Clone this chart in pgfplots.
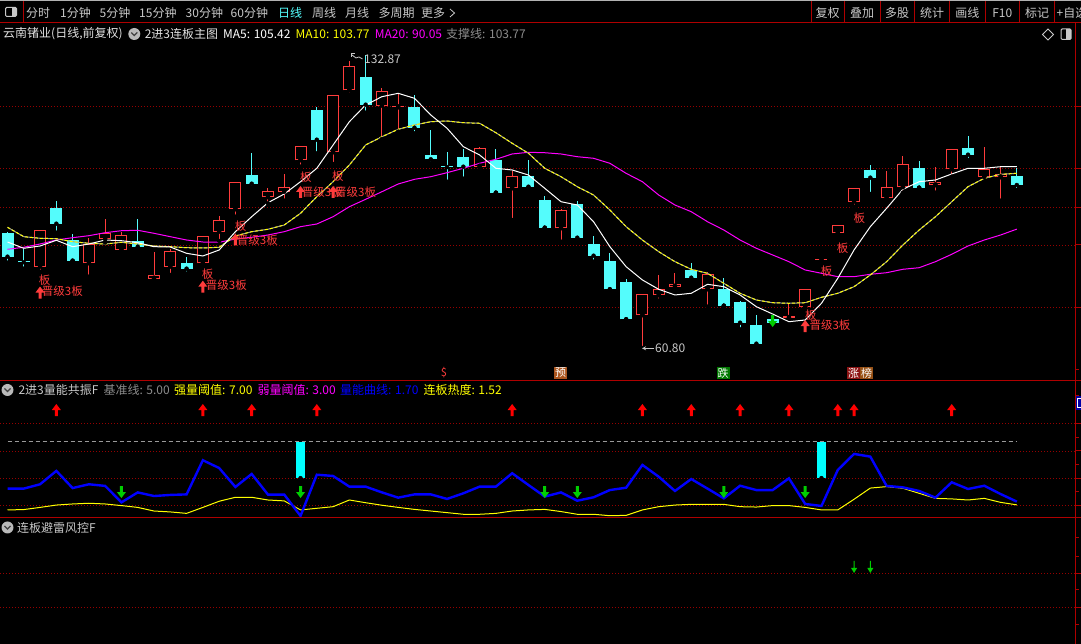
\documentclass[border=0pt]{standalone}
\usepackage{fontspec}
\setmainfont{Noto Sans CJK SC}
\usepackage{pgfplots}
\pgfplotsset{compat=1.18}
\usepackage{pgfplotstable}

\definecolor{candred}{RGB}{255,60,60}
\definecolor{candcyan}{RGB}{84,252,252}
\definecolor{gridred}{RGB}{150,0,0}
\definecolor{sepred}{RGB}{175,0,0}
\definecolor{txtgray}{RGB}{200,200,200}
\definecolor{txtwhite}{RGB}{225,225,225}
\definecolor{dimgray}{RGB}{140,140,140}
\definecolor{mayellow}{RGB}{255,255,0}
\definecolor{mamag}{RGB}{255,0,255}
\definecolor{p2blue}{RGB}{0,0,255}
\definecolor{arrgreen}{RGB}{0,205,0}
\definecolor{barcyan}{RGB}{0,255,255}
\definecolor{pillA}{RGB}{170,85,30}
\definecolor{pillB}{RGB}{0,120,0}
\definecolor{pillC}{RGB}{140,20,20}
\definecolor{pillD}{RGB}{150,80,20}

\pgfdeclareplotmark{arrup}{%
  \pgfpathmoveto{\pgfqpoint{-1.5pt}{-6pt}}%
  \pgfpathlineto{\pgfqpoint{1.5pt}{-6pt}}%
  \pgfpathlineto{\pgfqpoint{1.5pt}{0pt}}%
  \pgfpathlineto{\pgfqpoint{4.5pt}{0pt}}%
  \pgfpathlineto{\pgfqpoint{0pt}{6pt}}%
  \pgfpathlineto{\pgfqpoint{-4.5pt}{0pt}}%
  \pgfpathlineto{\pgfqpoint{-1.5pt}{0pt}}%
  \pgfpathclose\pgfusepathqfill}
\pgfdeclareplotmark{arrdown}{%
  \pgfpathmoveto{\pgfqpoint{-1.5pt}{6pt}}%
  \pgfpathlineto{\pgfqpoint{1.5pt}{6pt}}%
  \pgfpathlineto{\pgfqpoint{1.5pt}{0pt}}%
  \pgfpathlineto{\pgfqpoint{4.5pt}{0pt}}%
  \pgfpathlineto{\pgfqpoint{0pt}{-6pt}}%
  \pgfpathlineto{\pgfqpoint{-4.5pt}{0pt}}%
  \pgfpathlineto{\pgfqpoint{-1.5pt}{0pt}}%
  \pgfpathclose\pgfusepathqfill}
\pgfdeclareplotmark{thindown}{%
  \pgfpathmoveto{\pgfqpoint{-0.5pt}{6pt}}%
  \pgfpathlineto{\pgfqpoint{0.5pt}{6pt}}%
  \pgfpathlineto{\pgfqpoint{0.5pt}{-1pt}}%
  \pgfpathlineto{\pgfqpoint{3pt}{-1pt}}%
  \pgfpathlineto{\pgfqpoint{0pt}{-6pt}}%
  \pgfpathlineto{\pgfqpoint{-3pt}{-1pt}}%
  \pgfpathlineto{\pgfqpoint{-0.5pt}{-1pt}}%
  \pgfpathclose\pgfusepathqfill}

% down (cyan) candles: i open high low close
\pgfplotstableread{
i o h l c
0 89.17 89.42 81.79 83.27
1 82.10 85.16 80.32 81.90
3 95.24 96.97 89.17 91.38
4 87.37 88.78 82.28 82.28
8 87.05 92.47 85.16 85.73
11 81.64 83.12 79.09 80.32
15 103.36 108.70 100.24 101.22
19 119.35 120.16 108.70 112.04
22 127.46 132.87 118.68 120.65
25 120.16 123.04 113.62 114.99
26 108.28 114.43 106.24 107.22
27 105.50 108.94 101.71 105.30
28 107.79 109.75 102.45 105.40
30 107.05 109.75 99.01 99.01
32 103.11 107.05 100.24 100.48
33 97.21 98.20 90.40 90.40
35 96.23 96.89 87.37 87.94
36 86.39 88.36 82.04 83.51
37 82.28 84.25 75.25 75.25
38 77.12 77.71 67.87 67.87
42 80.00 81.79 77.36 78.10
44 75.25 77.95 71.22 71.22
45 72.05 72.37 65.41 67.03
46 66.47 68.93 61.00 61.87
47 67.87 68.19 66.96 67.03
53 104.59 105.82 98.69 102.70
56 105.08 106.80 100.24 100.24
59 110.00 112.95 107.05 108.35
62 103.11 105.01 99.67 100.90
}\downtab

% up (red, hollow) candles: i open high low close
\pgfplotstableread{
i o h l c
2 80.81 89.76 79.58 89.76
5 81.64 87.87 78.35 86.39
6 87.55 92.47 86.81 89.10
7 84.99 89.34 84.50 88.53
9 77.86 84.42 77.86 78.69
10 80.81 85.09 78.77 84.67
12 81.64 88.28 81.05 88.28
13 89.42 93.28 87.13 92.22
14 94.92 101.57 93.10 101.57
16 97.88 100.09 96.40 99.35
17 99.25 103.53 97.04 100.41
18 106.98 110.42 105.40 110.42
20 108.94 122.96 106.07 122.96
21 124.19 131.32 123.11 130.09
23 120.40 124.68 112.21 124.02
24 120.00 123.45 114.01 120.45
29 105.40 110.32 104.76 109.93
31 100.09 104.34 92.29 103.11
34 90.25 95.00 86.96 94.75
39 68.86 74.02 60.80 74.02
40 73.77 78.77 72.45 75.25
41 75.89 79.33 75.50 76.48
43 75.25 79.43 70.97 78.94
48 68.20 71.81 68.20 68.62
49 70.97 75.25 70.97 75.25
50 82.55 82.75 82.04 82.75
51 89.02 90.99 88.19 90.99
52 96.79 100.09 95.56 100.09
54 97.78 104.34 97.04 100.34
55 100.34 108.03 99.01 105.99
57 100.83 105.33 99.01 101.57
58 104.76 109.68 102.94 109.68
60 102.94 110.17 102.94 104.76
61 102.79 105.40 97.04 103.61
}\uptab

% moving averages
\pgfplotstableread{
i m5 m10 m20
0 86.88 90.50 85.09
1 85.33 88.19 85.58
2 85.90 87.79 86.39
3 87.30 87.69 87.37
4 85.73 86.96 87.94
5 86.39 86.56 88.43
6 87.37 86.39 89.17
7 87.20 86.81 89.66
8 86.71 86.39 89.76
9 85.73 85.90 89.02
10 85.65 85.73 88.19
11 84.10 85.48 87.37
12 83.44 85.41 86.88
13 84.91 85.58 86.81
14 89.42 88.36 87.62
15 93.10 89.42 88.04
16 96.55 90.01 88.60
17 98.69 91.06 89.42
18 101.71 93.94 90.65
19 105.01 98.02 91.31
20 110.74 101.71 93.10
21 116.47 105.82 95.56
22 120.58 110.74 97.38
23 122.62 112.78 99.25
24 123.45 114.60 101.15
25 122.22 115.66 102.30
26 118.12 116.47 102.94
27 114.85 116.64 103.93
28 110.32 116.22 105.01
29 108.28 116.08 106.24
30 105.01 113.76 107.22
31 104.59 111.16 108.53
32 103.36 108.70 108.94
33 100.09 105.01 108.84
34 96.79 102.94 108.53
35 95.98 100.48 107.86
36 91.87 98.44 107.47
37 85.73 94.75 106.24
38 80.81 90.65 103.77
39 77.54 87.37 101.71
40 75.25 84.50 98.44
41 73.85 82.04 95.98
42 74.27 80.17 94.33
43 76.48 79.18 91.87
44 75.89 76.72 89.83
45 73.85 74.27 87.37
46 70.97 72.62 85.33
47 69.17 71.95 83.69
48 67.28 71.81 82.04
49 67.70 71.95 80.00
50 71.81 73.28 79.18
51 77.95 74.27 78.35
52 84.91 75.89 78.35
53 90.65 78.77 78.94
54 95.17 82.04 79.33
55 99.84 86.14 80.17
56 101.71 89.83 80.56
57 102.13 93.10 82.04
58 103.61 96.79 83.86
59 105.01 100.48 85.90
60 105.01 102.55 87.37
61 105.40 103.53 88.60
62 105.42 103.77 90.05
}\matab

% volume-energy curve (b) and limit-up heat (y)
\pgfplotstableread{
i b y
0 2.42 1.24
1 2.42 1.26
2 2.66 1.38
3 3.40 1.51
4 2.45 1.57
5 2.66 1.61
6 2.57 1.57
7 1.66 1.48
8 2.21 1.38
9 2.01 1.18
10 2.07 1.13
11 2.10 1.05
12 3.99 1.38
13 3.56 1.72
14 2.51 1.94
15 3.23 1.94
16 2.09 1.79
17 2.09 1.74
18 0.91 1.24
19 3.19 1.33
20 3.12 1.42
21 2.53 1.79
22 2.53 1.64
23 2.21 1.50
24 1.92 1.38
25 2.10 1.27
26 2.10 1.18
27 1.85 1.09
28 2.16 1.00
29 2.53 1.00
30 2.53 1.05
31 3.27 1.18
32 2.62 1.24
33 1.98 1.27
34 2.21 1.15
35 1.75 1.00
36 1.94 1.00
37 2.34 0.92
38 2.47 0.94
39 3.73 1.24
40 3.08 1.42
41 2.29 1.51
42 2.95 1.55
43 2.42 1.55
44 1.88 1.55
45 2.58 1.42
46 2.34 1.40
47 2.34 1.48
48 2.99 1.48
49 1.57 1.38
50 1.46 1.24
51 3.45 1.24
52 4.34 1.83
53 4.19 2.45
54 2.57 2.53
55 2.49 2.44
56 2.29 2.16
57 1.92 1.88
58 2.77 1.85
59 2.40 1.79
60 2.58 1.88
61 2.12 1.66
62 1.70 1.52
}\vtab

\pgfplotsset{
  panel/.style={scale only axis, width=1075pt, xmin=-0.4607, xmax=65.571,
    anchor=south west, clip=false,
    axis line style={draw=none}, tick style={draw=none},
    xtick=\empty, ytick=\empty},
  ebar/.style={only marks, mark=none, forget plot,
    error bars/y dir=plus, error bars/y explicit, error bars/error mark=none},
  gridline/.style={gridred, dash pattern=on 1pt off 2pt, line width=1pt, mark=none, forget plot},
}

\tikzset{t/.style={inner sep=0pt, anchor=west, font=\fontsize{12}{12}\selectfont},
  tc/.style={inner sep=0pt, anchor=center, font=\fontsize{12}{12}\selectfont},
  ann/.style={inner sep=0pt, text=candred, font=\fontsize{11.5}{11.5}\selectfont}}

\begin{document}
\begin{tikzpicture}[x=1pt,y=1pt]
\useasboundingbox (0,0) rectangle (1081,644);
\clip (0,0) rectangle (1081,644);
\fill[black] (0,0) rectangle (1081,644);

% ---------- main price panel ----------
\begin{axis}[panel, at={(0pt,263pt)}, height=358pt, ymin=52.697, ymax=140.743]
  \addplot[gridline] coordinates {(-0.4607,70.82) (65.571,70.82)};
  \addplot[gridline] coordinates {(-0.4607,86.14) (65.571,86.14)};
  \addplot[gridline] coordinates {(-0.4607,95.42) (65.571,95.42)};
  \addplot[gridline] coordinates {(-0.4607,105.01) (65.571,105.01)};
  \addplot[gridline] coordinates {(-0.4607,120.16) (65.571,120.16)};
  % cyan (down) candles
  \addplot[ebar, error bars/error bar style={draw=candcyan, line width=1pt, solid}]
    table[x=i, y=l, y error plus expr=\thisrow{h}-\thisrow{l}] {\downtab};
  \addplot[ebar, error bars/error bar style={draw=candcyan, line width=12pt, solid}]
    table[x=i, y=c, y error plus expr=\thisrow{o}-\thisrow{c}] {\downtab};
  % red (up) hollow candles
  \addplot[ebar, error bars/error bar style={draw=candred, line width=1pt, solid}]
    table[x=i, y=l, y error plus expr=\thisrow{h}-\thisrow{l}] {\uptab};
  \addplot[ebar, error bars/error bar style={draw=candred, line width=12pt, solid}]
    table[x=i, y=o, y error plus expr=\thisrow{c}-\thisrow{o}] {\uptab};
  \addplot[ebar, error bars/error bar style={draw=black, line width=10pt, solid}]
    table[x=i, y expr=\thisrow{o}+0.246, y error plus expr={max(\thisrow{c}-\thisrow{o}-0.492,0)}] {\uptab};
  % moving averages
  \addplot[mamag, line width=1pt, mark=none] table[x=i, y=m20] {\matab};
  \addplot[gray!75, line width=1pt, mark=none] table[x=i, y=m10] {\matab};
  \addplot[mayellow, line width=1pt, mark=none, dash pattern=on 3pt off 2pt] table[x=i, y=m10] {\matab};
  \addplot[white, line width=1pt, mark=none] table[x=i, y=m5] {\matab};
  % signal arrows
  \addplot[only marks, mark=arrup, mark options={fill=candred, draw=none}]
    coordinates {(2,74.46) (12,75.89) (14,87.50) (18,99.18) (20,99.18) (49,66.22)};
  \addplot[only marks, mark=arrdown, mark options={fill=arrgreen, draw=none}]
    coordinates {(47,67.45)};
\end{axis}

% ---------- volume-energy panel ----------
\begin{axis}[panel, at={(0pt,126pt)}, height=137pt, ymin=0.794, ymax=8.376]
  \addplot[gridline] coordinates {(-0.4607,1.5) (65.571,1.5)};
  \addplot[gridline] coordinates {(-0.4607,3) (65.571,3)};
  \addplot[gridline] coordinates {(-0.4607,4.5) (65.571,4.5)};
  \addplot[gridline] coordinates {(-0.4607,6) (65.571,6)};
  \addplot[gray!80, line width=1pt, dash pattern=on 4pt off 3pt, mark=none] coordinates {(0,5) (62,5)};
  \addplot[mayellow, line width=1pt, mark=none] table[x=i, y=y] {\vtab};
  \addplot[p2blue, line width=2.4pt, mark=none] table[x=i, y=b] {\vtab};
  \addplot[ebar, error bars/error bar style={draw=barcyan, line width=9pt, solid}]
    coordinates {(18,3) +- (0,2) (50,3) +- (0,2)};
  \addplot[only marks, mark=arrup, mark options={fill=red, draw=none}]
    coordinates {(3,6.77) (12,6.77) (15,6.77) (19,6.77) (31,6.77) (39,6.77) (42,6.77) (45,6.77) (48,6.77) (51,6.77) (52,6.77) (58,6.77)};
  \addplot[only marks, mark=arrdown, mark options={fill=arrgreen, draw=none}]
    coordinates {(7,2.23) (18,2.23) (33,2.23) (35,2.23) (44,2.23) (49,2.23)};
\end{axis}

% ---------- risk-control panel ----------
\begin{axis}[panel, at={(0pt,0pt)}, height=126pt, ymin=-1.079, ymax=2.626]
  \addplot[gridline] coordinates {(-0.4607,0) (65.571,0)};
  \addplot[gridline] coordinates {(-0.4607,1) (65.571,1)};
  \addplot[only marks, mark=thindown, mark options={fill=arrgreen, draw=none}]
    coordinates {(52,1.185) (53,1.185)};
\end{axis}

% ---------- frame lines ----------
\fill[gray!60] (0,642.5) rectangle (1081,644);
\draw[sepred, line width=1pt] (0,621) -- (1081,621);
\draw[sepred, line width=1pt] (0,263) -- (1081,263);
\draw[sepred, line width=1pt] (0,126) -- (1081,126);
\draw[sepred, line width=1pt] (1075,0) -- (1075,621);
\foreach \yy in {537.3,475.7,436.7,399,336.7,220,193,165.7,138.7,70.7,36.7}
  \draw[sepred, line width=1pt] (1075,\yy) -- (1081,\yy);
\foreach \yy in {206.3,179.3,152.2,106,87.3,54,19,248,274}
  \draw[sepred, line width=1pt] (1075,\yy) -- (1079,\yy);
\fill[blue!65!black] (1076,234) rectangle (1081,248);
\draw[white, line width=0.6pt] (1077.5,236.5) rectangle (1081.5,245.5);
\foreach \xx in {23,811,844,880,914.4,949.6,985,1019.6,1054.8}
  \draw[sepred, line width=1pt] (\xx,621) -- (\xx,642.5);

% ---------- toolbar ----------
\draw[txtgray, rounded corners=1.2pt, line width=1pt] (5.5,627.5) rectangle (16.5,636.5);
\fill[txtgray] (11.5,628) rectangle (16,636);
\node[t, text=txtgray] at (26,631) {分时};
\node[t, text=txtgray] at (60,631) {1分钟};
\node[t, text=txtgray] at (99.5,631) {5分钟};
\node[t, text=txtgray] at (139,631) {15分钟};
\node[t, text=txtgray] at (185.5,631) {30分钟};
\node[t, text=txtgray] at (230.5,631) {60分钟};
\node[t, text=candcyan] at (278,631) {日线};
\node[t, text=txtgray] at (312,631) {周线};
\node[t, text=txtgray] at (345,631) {月线};
\node[t, text=txtgray] at (378.5,631) {多周期};
\node[t, text=txtgray] at (421,631) {更多};
\draw[txtgray, line width=0.8pt] (450,635) -- (454.5,631) -- (450,627);
\node[tc, text=txtgray] at (827.5,631) {复权};
\node[tc, text=txtgray] at (862,631) {叠加};
\node[tc, text=txtgray] at (897,631) {多股};
\node[tc, text=txtgray] at (932,631) {统计};
\node[tc, text=txtgray] at (967.3,631) {画线};
\node[tc, text=txtgray] at (1002.3,631) {F10};
\node[tc, text=txtgray] at (1037.2,631) {标记};
\node[t, text=txtgray] at (1056.5,631) {+自选};

% ---------- title row ----------
\node[t, text=txtwhite] at (3,610) {云南锗业(日线,前复权)};
\fill[gray!55] (134.3,610) circle (6);
\draw[black!75, line width=1.3pt] (131.3,611.5) -- (134.3,608.5) -- (137.3,611.5);
\node[t, text=txtwhite] at (144.6,610) {2进3连板主图};
\node[t, text=white] at (223,610) {MA5: 105.42};
\node[t, text=mayellow] at (295.5,610) {MA10: 103.77};
\node[t, text=mamag] at (374.7,610) {MA20: 90.05};
\node[t, text=dimgray] at (446,610) {支撑线: 103.77};
\draw[txtgray, line width=0.8pt] (1048,615) -- (1053.5,609.5) -- (1048,604) -- (1042.5,609.5) -- cycle;
\draw[txtgray, rounded corners=1.2pt, line width=1pt] (1061,604.5) rectangle (1071,615);
\fill[txtgray] (1066,605) rectangle (1070.5,614.5);

% ---------- main panel annotations ----------
\node[t, text=txtgray] at (364,584.3) {132.87};
\draw[txtgray, line width=0.8pt] (351,587) -- (351,590.5) -- (355,590.5);
\draw[txtgray, line width=0.8pt] (352,589) -- (356,586) -- (359,587) -- (362.5,585);
\node[t, text=txtgray] at (655,295.7) {60.80};
\draw[txtgray, line width=0.8pt, ->, >=stealth] (654,295.7) -- (642,295.7);

\node[ann] at (44.7,363.5) {板};
\node[ann] at (207.7,370) {板};
\node[ann] at (240.5,418) {板};
\node[ann] at (305.8,466.5) {板};
\node[ann] at (337.8,467.5) {板};
\node[ann] at (810.8,328.5) {板};
\node[ann] at (826.7,372.5) {板};
\node[ann] at (842.7,395.7) {板};
\node[ann] at (859.3,425.7) {板};
\node[ann, anchor=west] at (41.7,353) {晋级3板};
\node[ann, anchor=west] at (205.7,358.5) {晋级3板};
\node[ann, anchor=west] at (236.7,403.5) {晋级3板};
\node[ann, anchor=west] at (301.7,452) {晋级3板};
\node[ann, anchor=west] at (335,452) {晋级3板};
\node[ann, anchor=west] at (809.3,318.5) {晋级3板};

\node[inner sep=0pt, text=candred, font=\fontsize{11}{11}\selectfont] at (444,271) {\$};
\node[inner sep=1pt, fill=pillA, text=white!85, font=\fontsize{11}{11}\selectfont] at (560.5,271) {预};
\node[inner sep=1pt, fill=pillB, text=white, font=\fontsize{11}{11}\selectfont] at (723,271) {跌};
\node[inner sep=1pt, fill=pillC, text=white!85, font=\fontsize{11}{11}\selectfont] at (853.5,271) {涨};
\node[inner sep=1pt, fill=pillD, text=white!85, font=\fontsize{11}{11}\selectfont] at (866.5,271) {榜};

% ---------- panel headers ----------
\fill[gray!55] (7.5,254) circle (6);
\draw[black!75, line width=1.3pt] (4.5,255.5) -- (7.5,252.5) -- (10.5,255.5);
\node[t, text=txtgray] at (18.3,254) {2进3量能共振F};
\node[t, text=dimgray] at (103.3,254) {基准线: 5.00};
\node[t, text=mayellow] at (174,254) {强量阈值: 7.00};
\node[t, text=mamag] at (257.3,254) {弱量阈值: 3.00};
\node[t, text=p2blue] at (340,254) {量能曲线: 1.70};
\node[t, text=mayellow] at (423.3,254) {连板热度: 1.52};

\fill[gray!55] (7.5,116.5) circle (6);
\draw[black!75, line width=1.3pt] (4.5,118) -- (7.5,115) -- (10.5,118);
\node[t, text=txtgray] at (17,116.5) {连板避雷风控F};
\end{tikzpicture}
\end{document}
